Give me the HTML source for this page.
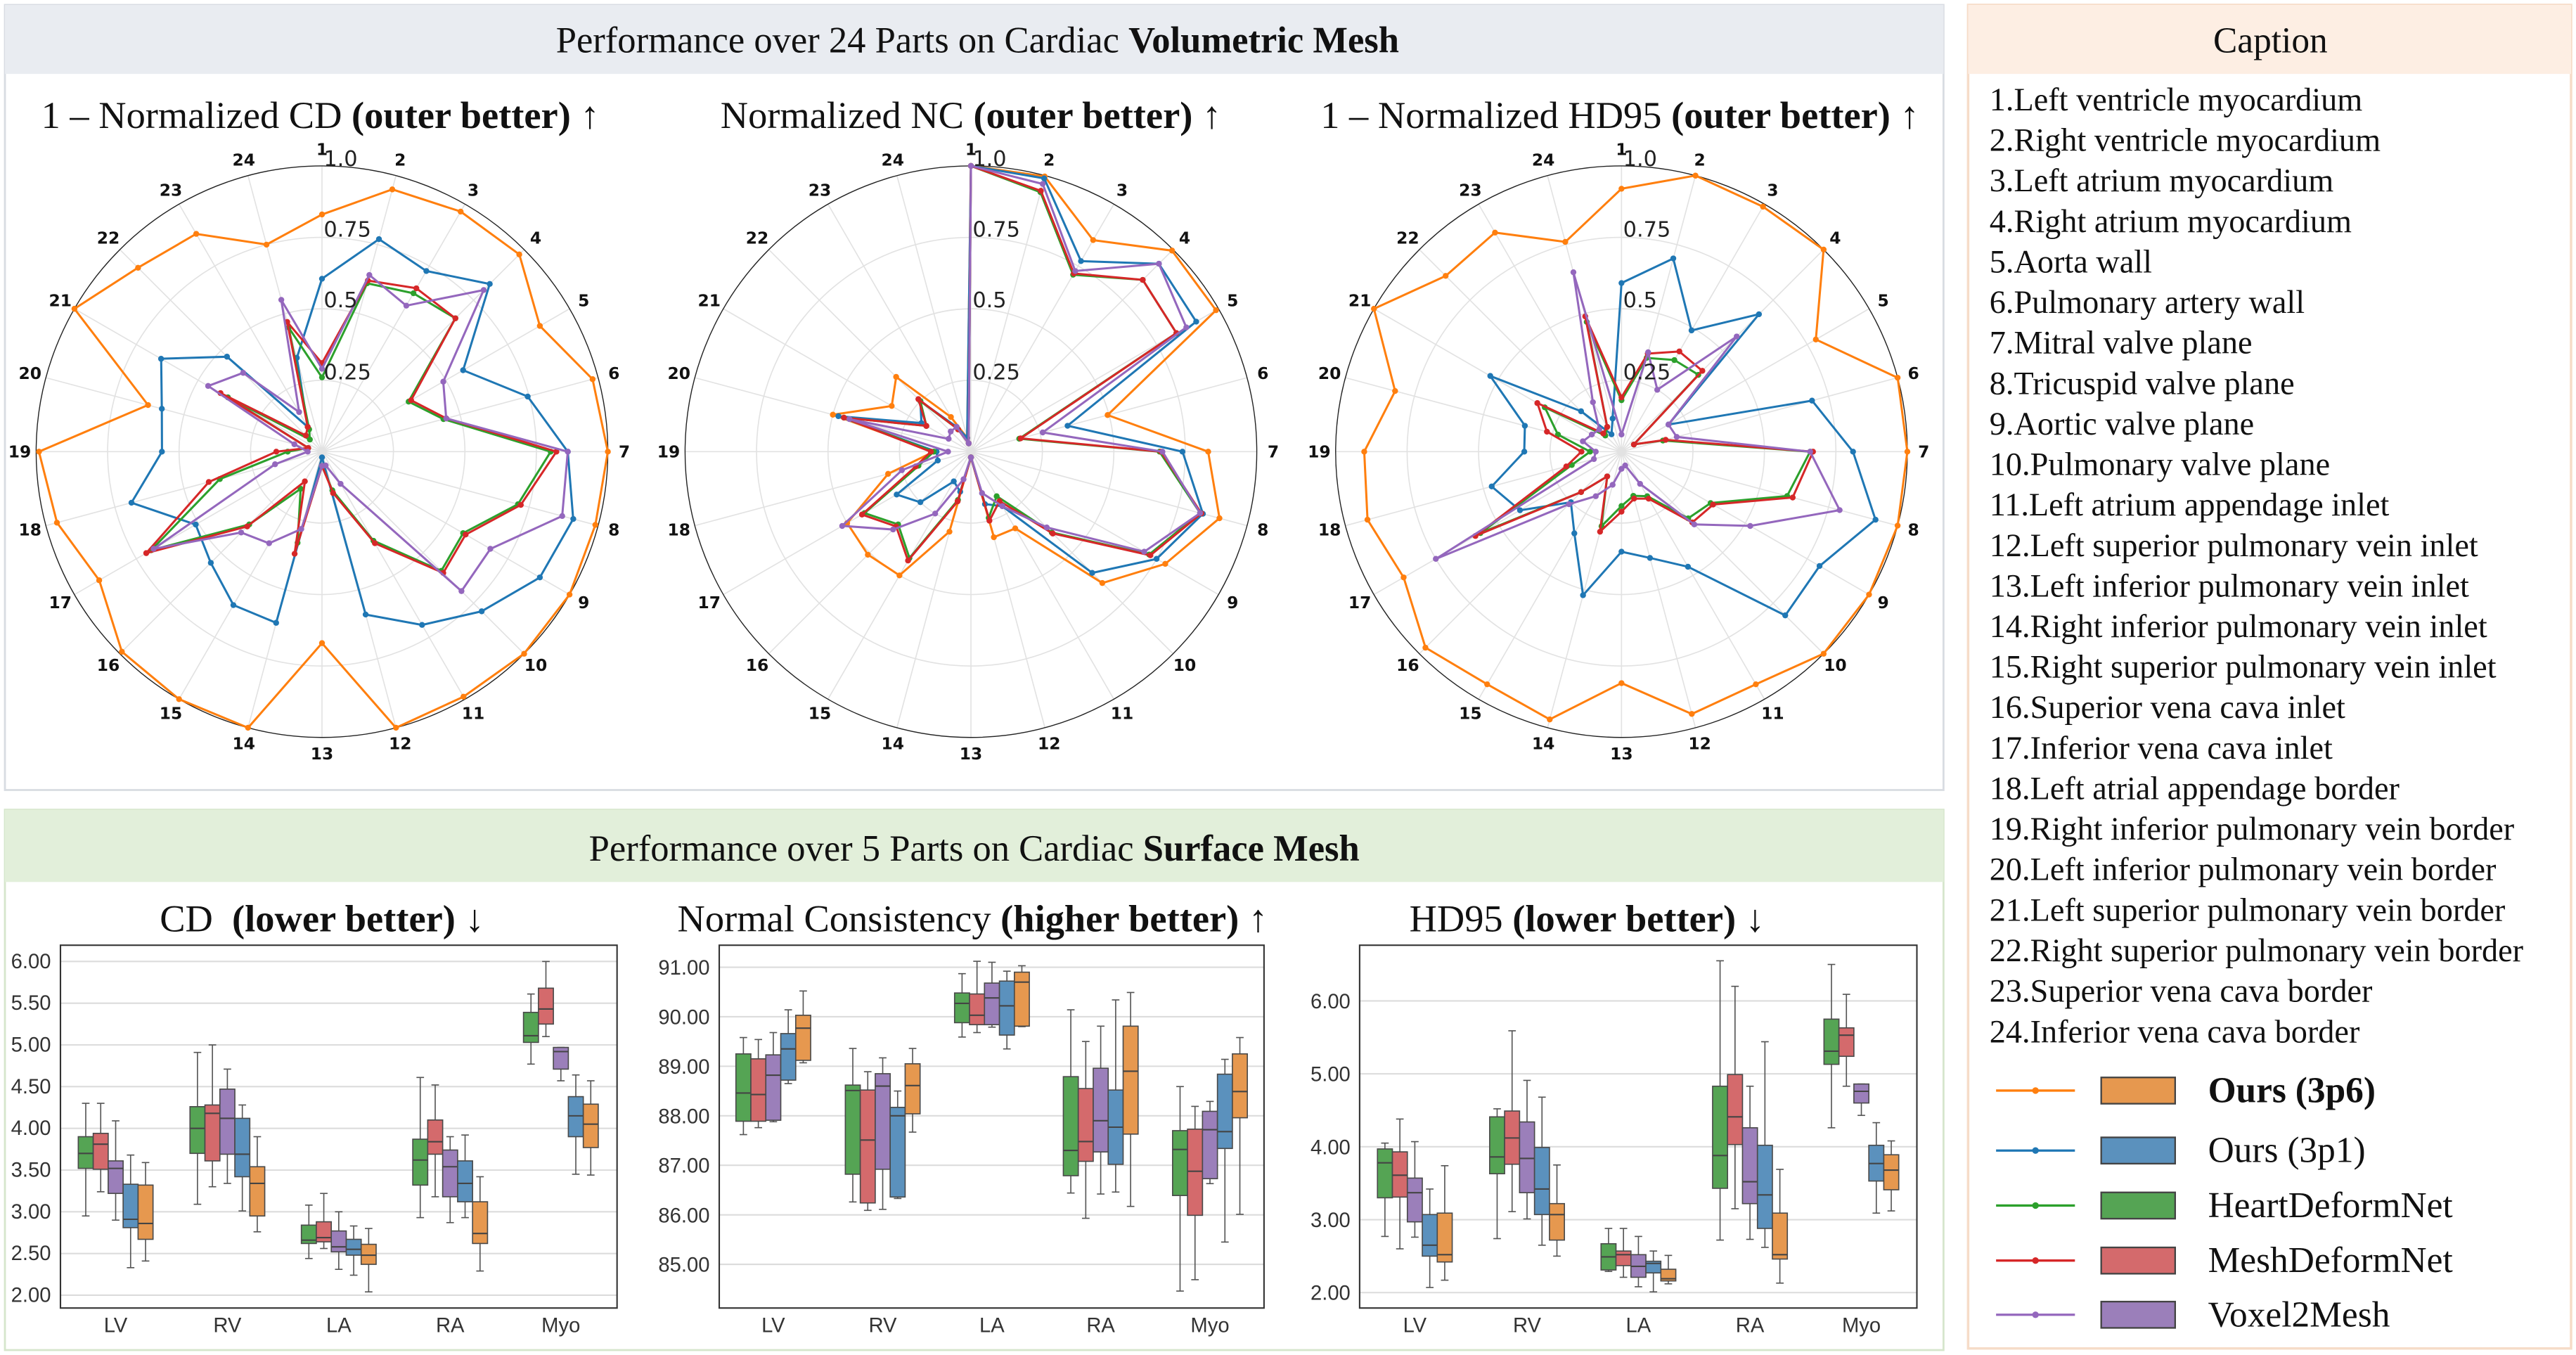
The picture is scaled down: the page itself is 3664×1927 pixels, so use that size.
<!DOCTYPE html>
<html><head><meta charset="utf-8"><style>
html,body{margin:0;padding:0;background:#fff;}
svg{display:block;}
.ser{font-family:"Liberation Serif",serif;}
.sp{font-family:"DejaVu Sans",sans-serif;font-weight:bold;font-size:10px;fill:#111;text-anchor:middle;dominant-baseline:central;}
.rt{font-family:"DejaVu Sans",sans-serif;font-size:13px;fill:#222;}
.tk{font-family:"Liberation Sans",sans-serif;font-size:12.5px;fill:#333;}
.cap{font-family:"Liberation Serif",serif;font-size:19.8px;fill:#111;dominant-baseline:central;}
</style></head><body>
<svg id="s" width="3664" height="1927" viewBox="0 0 1568 825" preserveAspectRatio="none" xmlns="http://www.w3.org/2000/svg">
<rect x="0" y="0" width="1568" height="825" fill="#fff"/>
<rect x="3" y="3" width="1180" height="478" fill="#fff" stroke="#d8dce2" stroke-width="1.2"/>
<rect x="3" y="3" width="1180" height="42" fill="#e9ecf1"/>
<text class="ser" x="595" y="32" font-size="22.5" text-anchor="middle" fill="#111">Performance over 24 Parts on Cardiac <tspan font-weight="bold">Volumetric Mesh</tspan></text>
<text class="ser" x="195" y="78" font-size="23.3" text-anchor="middle" fill="#111">1 – Normalized CD <tspan font-weight="bold">(outer better)</tspan> ↑</text>
<text class="ser" x="591" y="78" font-size="23.3" text-anchor="middle" fill="#111">Normalized NC <tspan font-weight="bold">(outer better)</tspan> ↑</text>
<text class="ser" x="986" y="78" font-size="23.3" text-anchor="middle" fill="#111">1 – Normalized HD95 <tspan font-weight="bold">(outer better)</tspan> ↑</text>
<g id="radars"></g>
<rect x="3" y="493" width="1180" height="329" fill="#fff" stroke="#d6e6cc" stroke-width="1.2"/>
<rect x="3" y="493" width="1180" height="44" fill="#e2efda"/>
<text class="ser" x="593" y="524" font-size="22.5" text-anchor="middle" fill="#111">Performance over 5 Parts on Cardiac <tspan font-weight="bold">Surface Mesh</tspan></text>
<text class="ser" x="196" y="567" font-size="23.3" text-anchor="middle" fill="#111" xml:space="preserve">CD  <tspan font-weight="bold">(lower better)</tspan> ↓</text>
<text class="ser" x="592" y="567" font-size="23.3" text-anchor="middle" fill="#111">Normal Consistency <tspan font-weight="bold">(higher better)</tspan> ↑</text>
<text class="ser" x="966" y="567" font-size="23.3" text-anchor="middle" fill="#111">HD95 <tspan font-weight="bold">(lower better)</tspan> ↓</text>
<g id="boxes"></g>
<g class="tk" text-anchor="end">
<text x="31" y="589.5">6.00</text><text x="31" y="614.9">5.50</text><text x="31" y="640.3">5.00</text><text x="31" y="665.7">4.50</text><text x="31" y="691.1">4.00</text><text x="31" y="716.5">3.50</text><text x="31" y="741.9">3.00</text><text x="31" y="767.3">2.50</text><text x="31" y="792.7">2.00</text>
<text x="432" y="593.4">91.00</text><text x="432" y="623.6">90.00</text><text x="432" y="653.7">89.00</text><text x="432" y="683.9">88.00</text><text x="432" y="714">87.00</text><text x="432" y="744.2">86.00</text><text x="432" y="774.3">85.00</text>
<text x="822" y="613.9">6.00</text><text x="822" y="658.3">5.00</text><text x="822" y="702.7">4.00</text><text x="822" y="747.1">3.00</text><text x="822" y="791.5">2.00</text>
</g>
<g class="tk" text-anchor="middle">
<text x="70.4" y="811">LV</text><text x="138.4" y="811">RV</text><text x="206.2" y="811">LA</text><text x="274" y="811">RA</text><text x="341.4" y="811">Myo</text>
<text x="470.7" y="811">LV</text><text x="537.3" y="811">RV</text><text x="603.8" y="811">LA</text><text x="670" y="811">RA</text><text x="736.5" y="811">Myo</text>
<text x="861.2" y="811">LV</text><text x="929.5" y="811">RV</text><text x="997.3" y="811">LA</text><text x="1065.2" y="811">RA</text><text x="1133" y="811">Myo</text>
</g>
<rect x="1198" y="3" width="367" height="818" fill="#fff" stroke="#f6dcc8" stroke-width="1.5"/>
<rect x="1198" y="3" width="367" height="42" fill="#fdeee3"/>
<text class="ser" x="1382" y="32" font-size="22" text-anchor="middle" fill="#111">Caption</text>
<g class="cap">
<text x="1211" y="61">1.Left ventricle myocardium</text>
<text x="1211" y="85.7">2.Right ventricle myocardium</text>
<text x="1211" y="110.3">3.Left atrium myocardium</text>
<text x="1211" y="135">4.Right atrium myocardium</text>
<text x="1211" y="159.7">5.Aorta wall</text>
<text x="1211" y="184.4">6.Pulmonary artery wall</text>
<text x="1211" y="209">7.Mitral valve plane</text>
<text x="1211" y="233.7">8.Tricuspid valve plane</text>
<text x="1211" y="258.4">9.Aortic valve plane</text>
<text x="1211" y="283">10.Pulmonary valve plane</text>
<text x="1211" y="307.7">11.Left atrium appendage inlet</text>
<text x="1211" y="332.4">12.Left superior pulmonary vein inlet</text>
<text x="1211" y="357">13.Left inferior pulmonary vein inlet</text>
<text x="1211" y="381.7">14.Right inferior pulmonary vein inlet</text>
<text x="1211" y="406.4">15.Right superior pulmonary vein inlet</text>
<text x="1211" y="431">16.Superior vena cava inlet</text>
<text x="1211" y="455.7">17.Inferior vena cava inlet</text>
<text x="1211" y="480.4">18.Left atrial appendage border</text>
<text x="1211" y="505">19.Right inferior pulmonary vein border</text>
<text x="1211" y="529.7">20.Left inferior pulmonary vein border</text>
<text x="1211" y="554.4">21.Left superior pulmonary vein border</text>
<text x="1211" y="579">22.Right superior pulmonary vein border</text>
<text x="1211" y="603.7">23.Superior vena cava border</text>
<text x="1211" y="628.4">24.Inferior vena cava border</text>
</g>
<g id="legend"></g>
<g class="ser" font-size="22" fill="#111" dominant-baseline="central">
<text x="1344" y="664" font-weight="bold">Ours (3p6)</text>
<text x="1344" y="700.5">Ours (3p1)</text>
<text x="1344" y="734">HeartDeformNet</text>
<text x="1344" y="767.5">MeshDeformNet</text>
<text x="1344" y="800.5">Voxel2Mesh</text>
</g>
<g class="rt">
<text x="197" y="101">1.0</text><text x="197" y="144">0.75</text><text x="197" y="187">0.5</text><text x="197" y="231">0.25</text>
<text x="592" y="101">1.0</text><text x="592" y="144">0.75</text><text x="592" y="187">0.5</text><text x="592" y="231">0.25</text>
<text x="988" y="101">1.0</text><text x="988" y="144">0.75</text><text x="988" y="187">0.5</text><text x="988" y="231">0.25</text>
</g>
<g class="sp" transform="translate(196,275)">
<text x="0" y="-184">1</text><text x="47.6" y="-177.7">2</text><text x="92" y="-159.3">3</text><text x="130.1" y="-130.1">4</text><text x="159.3" y="-92">5</text><text x="177.7" y="-47.6">6</text><text x="184" y="0">7</text><text x="177.7" y="47.6">8</text><text x="159.3" y="92">9</text><text x="130.1" y="130.1">10</text><text x="92" y="159.3">11</text><text x="47.6" y="177.7">12</text><text x="0" y="184">13</text><text x="-47.6" y="177.7">14</text><text x="-92" y="159.3">15</text><text x="-130.1" y="130.1">16</text><text x="-159.3" y="92">17</text><text x="-177.7" y="47.6">18</text><text x="-184" y="0">19</text><text x="-177.7" y="-47.6">20</text><text x="-159.3" y="-92">21</text><text x="-130.1" y="-130.1">22</text><text x="-92" y="-159.3">23</text><text x="-47.6" y="-177.7">24</text>
</g>
<g class="sp" transform="translate(591,275)">
<text x="0" y="-184">1</text><text x="47.6" y="-177.7">2</text><text x="92" y="-159.3">3</text><text x="130.1" y="-130.1">4</text><text x="159.3" y="-92">5</text><text x="177.7" y="-47.6">6</text><text x="184" y="0">7</text><text x="177.7" y="47.6">8</text><text x="159.3" y="92">9</text><text x="130.1" y="130.1">10</text><text x="92" y="159.3">11</text><text x="47.6" y="177.7">12</text><text x="0" y="184">13</text><text x="-47.6" y="177.7">14</text><text x="-92" y="159.3">15</text><text x="-130.1" y="130.1">16</text><text x="-159.3" y="92">17</text><text x="-177.7" y="47.6">18</text><text x="-184" y="0">19</text><text x="-177.7" y="-47.6">20</text><text x="-159.3" y="-92">21</text><text x="-130.1" y="-130.1">22</text><text x="-92" y="-159.3">23</text><text x="-47.6" y="-177.7">24</text>
</g>
<g class="sp" transform="translate(987,275)">
<text x="0" y="-184">1</text><text x="47.6" y="-177.7">2</text><text x="92" y="-159.3">3</text><text x="130.1" y="-130.1">4</text><text x="159.3" y="-92">5</text><text x="177.7" y="-47.6">6</text><text x="184" y="0">7</text><text x="177.7" y="47.6">8</text><text x="159.3" y="92">9</text><text x="130.1" y="130.1">10</text><text x="92" y="159.3">11</text><text x="47.6" y="177.7">12</text><text x="0" y="184">13</text><text x="-47.6" y="177.7">14</text><text x="-92" y="159.3">15</text><text x="-130.1" y="130.1">16</text><text x="-159.3" y="92">17</text><text x="-177.7" y="47.6">18</text><text x="-184" y="0">19</text><text x="-177.7" y="-47.6">20</text><text x="-159.3" y="-92">21</text><text x="-130.1" y="-130.1">22</text><text x="-92" y="-159.3">23</text><text x="-47.6" y="-177.7">24</text>
</g>
</svg>
<script>
(function(){
var NS="http://www.w3.org/2000/svg";
function el(p,t,a){var e=document.createElementNS(NS,t);for(var k in a)e.setAttribute(k,a[k]);p.appendChild(e);return e;}
var C={o:"#ff7f0e",b:"#1f77b4",g:"#2ca02c",r:"#d62728",p:"#9467bd"};
var F={o:"#e6984f",b:"#5b91bd",g:"#55a454",r:"#d46a6c",p:"#9b7fba"};
var R=174;
var radars=[
 {cx:196,d:{
  o:[.83,.95,.97,.976,.88,.98,1,.99,1,1,.99,1,.67,1,1,.99,.9,.96,.99,.63,1,.91,.88,.75],
  b:[.605,.77,.73,.83,.57,.745,.86,.91,.88,.79,.70,.59,.02,.62,.62,.55,.51,.69,.56,.58,.65,.47,.1,.34],
  g:[.26,.61,.64,.66,.35,.44,.80,.71,.57,.59,.36,.14,.05,.33,.15,.36,.69,.37,.12,.05,.38,.06,.09,.45],
  r:[.31,.62,.66,.66,.36,.45,.82,.72,.58,.60,.37,.15,.05,.37,.12,.37,.71,.41,.16,.05,.41,.08,.1,.47],
  p:[.29,.64,.59,.80,.49,.45,.86,.87,.68,.69,.13,.05,.05,.28,.37,.40,.68,.17,.05,.1,.46,.39,.16,.55]}},
 {cx:591,d:{
  o:[1,.997,.855,.995,.99,.495,.83,.9,.785,.65,.31,.31,.02,.29,.5,.51,.5,.3,.13,.5,.32,.37,.14,.05],
  b:[1,.99,.77,.93,.91,.35,.74,.84,.75,.6,.22,.19,.02,.145,.12,.25,.3,.12,.12,.48,.2,.25,.1,.05],
  g:[1,.94,.715,.85,.83,.175,.66,.83,.72,.4,.18,.24,.02,.175,.43,.36,.43,.19,.13,.46,.18,.25,.09,.03],
  r:[1,.945,.72,.85,.83,.18,.665,.835,.725,.405,.2,.25,.02,.18,.44,.37,.44,.2,.14,.46,.18,.26,.09,.03],
  p:[1,.97,.73,.93,.87,.26,.67,.83,.70,.375,.22,.15,.02,.1,.25,.385,.52,.25,.08,.44,.09,.1,.1,.03]}},
 {cx:987,d:{
  o:[.92,1,.99,1,.785,1,1,1,1,1,.94,.95,.81,.97,.94,.97,.88,.92,.9,.82,1,.87,.885,.76],
  b:[.59,.7,.49,.68,.19,.69,.81,.92,.8,.81,.465,.385,.35,.52,.33,.25,.41,.47,.34,.35,.53,.2,.07,.12],
  g:[.18,.34,.37,.38,.05,.15,.66,.6,.36,.33,.18,.16,.19,.27,.1,.2,.57,.18,.11,.23,.31,.08,.1,.47],
  r:[.19,.355,.405,.4,.05,.16,.67,.62,.37,.35,.19,.17,.21,.29,.1,.2,.59,.2,.14,.27,.34,.09,.1,.49],
  p:[.06,.36,.25,.57,.19,.2,.66,.79,.52,.36,.13,.05,.06,.12,.18,.26,.75,.1,.09,.14,.12,.11,.2,.65]}}
];
var g=document.getElementById("radars");
radars.forEach(function(rd){
 var cx=rd.cx,cy=275;
 [.25,.5,.75].forEach(function(f){el(g,"circle",{cx:cx,cy:cy,r:R*f,fill:"none",stroke:"#e2e2e2","stroke-width":0.7});});
 for(var k=0;k<24;k++){var a=k*Math.PI/12;el(g,"line",{x1:cx,y1:cy,x2:cx+R*Math.sin(a),y2:cy-R*Math.cos(a),stroke:"#e2e2e2","stroke-width":0.7});}
 el(g,"circle",{cx:cx,cy:cy,r:R,fill:"none",stroke:"#222","stroke-width":0.6});
 ["o","b","g","r","p"].forEach(function(s){
  var v=rd.d[s],pts=[];
  for(var k=0;k<=24;k++){var i=k%24,a=i*Math.PI/12;pts.push((cx+R*v[i]*Math.sin(a)).toFixed(1)+","+(cy-R*v[i]*Math.cos(a)).toFixed(1));}
  el(g,"polyline",{points:pts.join(" "),fill:"none",stroke:C[s],"stroke-width":1.3,"stroke-linejoin":"round"});
  for(var k=0;k<24;k++){var a=k*Math.PI/12;el(g,"circle",{cx:cx+R*v[k]*Math.sin(a),cy:cy-R*v[k]*Math.cos(a),r:1.8,fill:C[s]});}
 });
});
var order=["g","r","p","b","o"];
var plots=[
 {l:36.8,r:375.6,y0:6,py0:585.4,pu:50.8,ticks:[2,2.5,3,3.5,4,4.5,5,5.5,6],xs:[70.4,138.4,206.2,274,341.4],d:[
  [[3.90,3.52,3.70,4.30,2.95],[3.94,3.51,3.81,4.30,3.24],[3.61,3.22,3.52,4.09,2.90],[3.33,2.81,2.91,3.68,2.33],[3.32,2.67,2.86,3.59,2.41]],
  [[4.26,3.70,4.0,4.91,3.09],[4.28,3.61,4.18,5.0,3.30],[4.47,3.69,4.12,4.71,3.34],[4.12,3.42,3.69,4.28,3.01],[3.54,2.95,3.34,3.90,2.76]],
  [[2.84,2.62,2.66,3.08,2.44],[2.88,2.64,2.69,3.22,2.56],[2.77,2.52,2.58,3.00,2.31],[2.67,2.48,2.55,2.83,2.24],[2.61,2.37,2.48,2.80,2.04]],
  [[3.87,3.32,3.62,4.61,2.93],[4.10,3.69,3.84,4.52,3.18],[3.74,3.18,3.54,3.90,2.87],[3.61,3.12,3.34,3.92,2.93],[3.12,2.62,2.74,3.42,2.29]],
  [[5.39,5.03,5.11,5.61,4.77],[5.68,5.25,5.43,6.0,5.10],[4.97,4.71,4.92,4.97,4.57],[4.38,3.90,4.15,4.64,3.45],[4.29,3.77,4.05,4.57,3.44]]]},
 {l:437.8,r:769.4,y0:91,py0:588.9,pu:30.15,ticks:[85,86,87,88,89,90,91],xs:[470.7,537.3,603.8,670,736.5],d:[
  [[89.25,87.89,88.46,89.58,87.62],[89.15,87.89,88.43,89.54,87.76],[89.23,87.91,88.82,89.68,87.88],[89.66,88.72,89.35,90.14,88.65],[90.03,89.12,89.77,90.52,89.07]],
  [[88.62,86.82,88.51,89.36,86.26],[88.52,86.24,87.51,88.89,86.09],[88.85,86.92,88.60,89.17,86.11],[88.17,86.36,88.0,88.5,86.33],[89.05,88.04,88.61,89.36,87.67]],
  [[90.48,89.88,90.27,90.87,89.59],[90.46,89.84,90.03,91.12,89.68],[90.68,89.84,90.38,91.10,89.79],[90.72,89.63,90.22,90.92,89.35],[90.90,89.81,90.70,91.03,89.80]],
  [[88.79,86.79,87.30,90.14,86.44],[88.55,87.08,87.48,89.50,85.93],[88.96,87.27,87.90,89.81,86.42],[88.52,87.02,87.77,90.34,86.46],[89.81,87.63,88.90,90.49,86.17]],
  [[87.70,86.39,87.32,88.59,84.46],[87.73,85.99,86.88,88.19,84.69],[88.09,86.73,87.72,88.29,86.63],[88.84,87.34,87.68,89.14,85.45],[89.25,87.96,88.49,89.58,86.01]]]},
 {l:827.6,r:1166.8,y0:6,py0:609.4,pu:44.4,ticks:[2,3,4,5,6],xs:[861.2,929.5,997.3,1065.2,1133],d:[
  [[3.97,3.30,3.78,4.05,2.77],[3.93,3.31,3.61,4.38,2.60],[3.57,2.97,3.37,4.07,2.76],[3.07,2.50,2.65,3.42,2.07],[3.09,2.42,2.52,3.74,2.17]],
  [[4.41,3.63,3.86,4.52,2.74],[4.49,3.76,4.12,5.59,3.11],[4.34,3.37,3.84,4.91,3.01],[3.99,3.07,3.42,4.68,2.65],[3.22,2.72,3.07,3.75,2.50]],
  [[2.67,2.31,2.49,2.88,2.29],[2.57,2.37,2.52,2.88,2.21],[2.52,2.21,2.36,2.77,2.08],[2.43,2.27,2.40,2.57,2.01],[2.32,2.16,2.19,2.51,2.12]],
  [[4.83,3.43,3.88,6.55,2.72],[4.99,4.03,4.41,6.20,3.15],[4.26,3.22,3.52,4.83,2.73],[4.02,2.88,3.34,5.44,2.62],[3.09,2.46,2.52,3.69,2.13]],
  [[5.75,5.13,5.31,6.50,4.26],[5.63,5.24,5.53,6.09,4.83],[4.86,4.60,4.76,4.86,4.43],[4.02,3.53,3.77,4.33,3.09],[3.89,3.41,3.68,4.08,3.12]]]}
];
var bg=document.getElementById("boxes");
plots.forEach(function(P){
 function Y(v){return P.py0+(P.y0-v)*P.pu;}
 el(bg,"rect",{x:P.l,y:575.5,width:P.r-P.l,height:220.9,fill:"#fff"});
 P.ticks.forEach(function(t){el(bg,"line",{x1:P.l,x2:P.r,y1:Y(t),y2:Y(t),stroke:"#dcdcdc","stroke-width":0.9});});
 P.d.forEach(function(grp,ci){
  var cx=P.xs[ci];
  grp.forEach(function(b,j){
   var x=cx+(j-2)*9.1,w=9.1,l=x-w/2;
   el(bg,"line",{x1:x,x2:x,y1:Y(b[3]),y2:Y(b[0]),stroke:"#555","stroke-width":0.7});
   el(bg,"line",{x1:x,x2:x,y1:Y(b[1]),y2:Y(b[4]),stroke:"#555","stroke-width":0.7});
   el(bg,"line",{x1:x-2.3,x2:x+2.3,y1:Y(b[3]),y2:Y(b[3]),stroke:"#555","stroke-width":0.7});
   el(bg,"line",{x1:x-2.3,x2:x+2.3,y1:Y(b[4]),y2:Y(b[4]),stroke:"#555","stroke-width":0.7});
   el(bg,"rect",{x:l,y:Y(b[0]),width:w,height:Math.max(0.5,Y(b[1])-Y(b[0])),fill:F[order[j]],stroke:"#4a4a4a","stroke-width":0.7});
   el(bg,"line",{x1:l,x2:l+w,y1:Y(b[2]),y2:Y(b[2]),stroke:"#444","stroke-width":0.9});
  });
 });
 el(bg,"rect",{x:P.l,y:575.5,width:P.r-P.l,height:220.9,fill:"none",stroke:"#333","stroke-width":0.9});
});
var lg=document.getElementById("legend");
var ys=[664,700.5,734,767.5,800.5],ks=["o","b","g","r","p"];
ks.forEach(function(s,i){var y=ys[i];
 el(lg,"line",{x1:1215,x2:1263,y1:y,y2:y,stroke:C[s],"stroke-width":1.4});
 el(lg,"circle",{cx:1239,cy:y,r:2,fill:C[s]});
 el(lg,"rect",{x:1279,y:y-8,width:45,height:16,fill:F[s],stroke:"#444","stroke-width":1});
});
})();
</script>
</body></html>
